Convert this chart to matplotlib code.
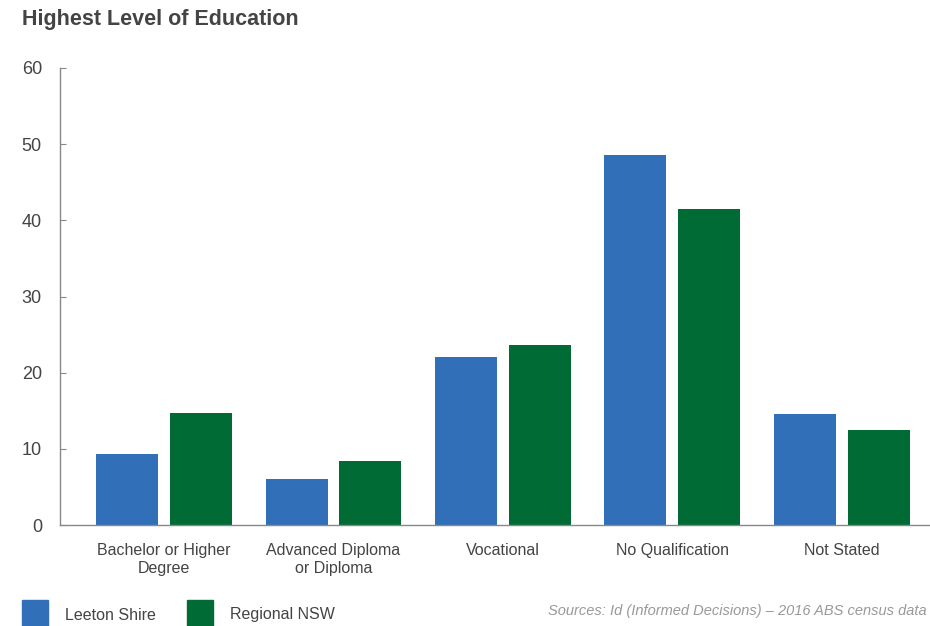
import numpy as np
import matplotlib.pyplot as plt
from matplotlib.patches import Rectangle

categories = ['Bachelor or Higher\nDegree', 'Advanced Diploma\nor Diploma',
              'Vocational', 'No Qualification', 'Not Stated']
leeton = [9.3, 6.0, 22.0, 48.6, 14.6]
regional = [14.7, 8.4, 23.6, 41.5, 12.5]
series_names = ['Leeton Shire', 'Regional NSW']
yticks = [0, 10, 20, 30, 40, 50, 60]

BLUE = '#3170b9'
GREEN = '#006b35'
GREY = '#444444'

plt.rcParams['font.family'] = ['Liberation Sans', 'DejaVu Sans']

fig = plt.figure(figsize=(9.3, 6.26), dpi=100)
ax = fig.add_axes([0.0645, 0.1613, 0.9355, 0.7301])

x = np.arange(len(categories))
w = 0.366
off = 0.218
ax.bar(x - off, leeton, w, color=BLUE)
ax.bar(x + off, regional, w, color=GREEN)

ax.set_xlim(-0.614, 4.52)
ax.set_ylim(0, 60)
ax.set_yticks(yticks)
ax.set_xticks(x)
ax.set_xticklabels(categories, fontsize=11.5, color=GREY, linespacing=1.25)
ax.tick_params(axis='x', length=0, pad=13)
ax.tick_params(axis='y', direction='in', length=4, color='#888888',
               labelsize=13, labelcolor=GREY, pad=13)
for s in ['top', 'right']:
    ax.spines[s].set_visible(False)
for s in ['left', 'bottom']:
    ax.spines[s].set_color('#888888')
    ax.spines[s].set_linewidth(1.0)

fig.text(22 / 930, 1 - 20 / 626, 'Highest Level of Education', fontsize=15.5,
         fontweight='bold', color=GREY, va='center', ha='left')

# legend
for px, color, name in [(22, BLUE, series_names[0]), (187, GREEN, series_names[1])]:
    fig.add_artist(Rectangle((px / 930, 0), 26 / 930, 26 / 626,
                             transform=fig.transFigure, color=color))
    fig.text((px + 43) / 930, 1 - 615 / 626, name, fontsize=11.5, color=GREY,
             va='center', ha='left')

fig.text(927 / 930, 1 - 611 / 626,
         'Sources: Id (Informed Decisions) \u2013 2016 ABS census data',
         fontsize=10.5, color='#999999', style='italic', va='center', ha='right')

fig.savefig('out.png', dpi=100)
